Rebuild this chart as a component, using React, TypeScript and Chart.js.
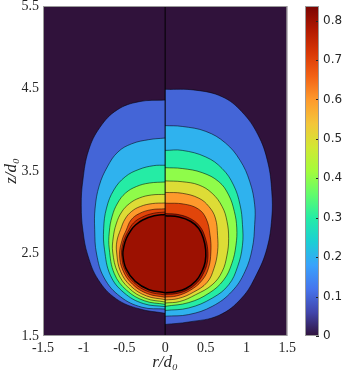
import React, { useEffect, useRef } from "react";
import { Chart, registerables } from "chart.js";

Chart.register(...registerables);

type P = [number, number];

// ---- axes / ticks ----
const xTicks = [-1.5, -1, -0.5, 0, 0.5, 1, 1.5];
const yTicks = [1.5, 2.5, 3.5, 4.5, 5.5];
const cbTicks = [0, 0.1, 0.2, 0.3, 0.4, 0.5, 0.6, 0.7, 0.8];
const cbMax = 0.837;

// ---- left half contours (r <= 0), outer to inner ----
const left01: P[] = [[0,4.36],[-0.32,4.34],[-0.59,4.24],[-0.80,4.03],[-0.94,3.75],[-1.01,3.39],[-1.03,3.08],[-1.01,2.78],[-0.95,2.48],[-0.82,2.18],[-0.60,1.95],[-0.32,1.83],[0,1.775]];
const left02: P[] = [[0,3.90],[-0.20,3.88],[-0.41,3.83],[-0.58,3.73],[-0.71,3.55],[-0.81,3.32],[-0.86,3.05],[-0.865,2.79],[-0.842,2.494],[-0.748,2.203],[-0.551,1.978],[-0.285,1.849],[0,1.827]];
const left03: P[] = [[0,3.57],[-0.14,3.565],[-0.32,3.52],[-0.49,3.43],[-0.63,3.27],[-0.72,3.05],[-0.755,2.80],[-0.745,2.55],[-0.672,2.235],[-0.505,2.024],[-0.268,1.893],[0,1.856]];
const left04: P[] = [[0,3.367],[-0.194,3.354],[-0.352,3.312],[-0.486,3.233],[-0.583,3.112],[-0.650,2.954],[-0.686,2.761],[-0.686,2.554],[-0.624,2.255],[-0.474,2.055],[-0.254,1.927],[0,1.884]];
const left05: P[] = [[0,3.217],[-0.170,3.209],[-0.316,3.173],[-0.437,3.106],[-0.534,3.003],[-0.601,2.858],[-0.638,2.688],[-0.644,2.518],[-0.583,2.271],[-0.447,2.082],[-0.242,1.957],[0,1.912]];
const left06: P[] = [[0,3.112],[-0.158,3.105],[-0.304,3.070],[-0.413,3.009],[-0.492,2.918],[-0.547,2.791],[-0.592,2.651],[-0.595,2.506],[-0.549,2.285],[-0.423,2.106],[-0.230,1.986],[0,1.941]];
const left07: P[] = [[0,3.042],[-0.170,3.031],[-0.316,2.985],[-0.419,2.906],[-0.477,2.785],[-0.528,2.664],[-0.559,2.49],[-0.520,2.298],[-0.401,2.128],[-0.218,2.013],[0,1.969]];
const left08: P[] = [[0,3.003],[-0.146,2.987],[-0.292,2.936],[-0.389,2.870],[-0.446,2.785],[-0.498,2.682],[-0.528,2.579],[-0.534,2.482],[-0.497,2.307],[-0.383,2.146],[-0.208,2.038],[0,1.997]];
const leftCore: P[] = [[0,2.973],[-0.134,2.957],[-0.276,2.906],[-0.364,2.845],[-0.417,2.785],[-0.474,2.688],[-0.506,2.591],[-0.519,2.482],[-0.479,2.314],[-0.367,2.162],[-0.198,2.061],[0,2.025]];

// ---- right half contours (r >= 0), outer to inner ----
const right01: P[] = [[0,4.49],[0.37,4.48],[0.70,4.40],[0.94,4.22],[1.14,3.94],[1.26,3.61],[1.31,3.25],[1.31,2.93],[1.25,2.56],[1.12,2.24],[0.94,1.96],[0.66,1.75],[0.29,1.67],[0,1.64]];
const right02: P[] = [[0,4.05],[0.21,4.04],[0.50,3.98],[0.74,3.84],[0.92,3.63],[1.04,3.37],[1.10,3.09],[1.10,2.85],[1.07,2.56],[0.98,2.28],[0.82,2.04],[0.58,1.86],[0.29,1.76],[0,1.74]];
const right03: P[] = [[0,3.75],[0.21,3.75],[0.50,3.67],[0.70,3.53],[0.84,3.33],[0.92,3.09],[0.95,2.85],[0.95,2.60],[0.89,2.34],[0.78,2.12],[0.58,1.96],[0.29,1.84],[0,1.81]];
const right04: P[] = [[0,3.54],[0.21,3.53],[0.455,3.48],[0.66,3.37],[0.78,3.21],[0.85,3.01],[0.88,2.81],[0.87,2.60],[0.82,2.38],[0.72,2.18],[0.54,2.02],[0.29,1.905],[0,1.86]];
const right05: P[] = [[0,3.38],[0.21,3.37],[0.415,3.33],[0.577,3.23],[0.70,3.07],[0.76,2.89],[0.78,2.68],[0.76,2.48],[0.70,2.28],[0.577,2.12],[0.374,2.00],[0.18,1.918],[0,1.90]];
const right06: P[] = [[0,3.24],[0.21,3.23],[0.415,3.17],[0.537,3.07],[0.617,2.93],[0.644,2.72],[0.644,2.52],[0.60,2.32],[0.516,2.15],[0.346,2.03],[0.164,1.955],[0,1.936]];
const right07: P[] = [[0,3.11],[0.225,3.10],[0.407,3.04],[0.505,2.92],[0.552,2.72],[0.562,2.52],[0.532,2.32],[0.45,2.17],[0.31,2.055],[0.14,1.985],[0,1.972]];
const right08: P[] = [[0,2.985],[0.175,2.97],[0.33,2.912],[0.433,2.82],[0.49,2.70],[0.524,2.542],[0.518,2.39],[0.472,2.262],[0.395,2.148],[0.268,2.055],[0.126,2.012],[0,2.003]];
const rightCore: P[] = [[0,2.957],[0.170,2.942],[0.316,2.888],[0.413,2.803],[0.468,2.688],[0.498,2.542],[0.492,2.397],[0.449,2.276],[0.377,2.167],[0.255,2.076],[0.121,2.036],[0,2.025]];

// value of the band inside each contour
const leftValues = [0.1, 0.2, 0.3, 0.4, 0.5, 0.6, 0.7, 0.75, 0.8];
const rightValues = [0.1, 0.2, 0.3, 0.4, 0.5, 0.6, 0.7, 0.8, 0.8];

// turbo colormap stops
const turbo = ["#30123b","#4145ab","#4675ed","#39a2fc","#1bcfd4","#24eca6","#61fc6c","#a4fc3b","#d1e834","#f3c63a","#fe9b2d","#f36315","#d93806","#b11901","#7a0402"];

function hexRgb(h: string): number[] {
  return [parseInt(h.slice(1, 3), 16), parseInt(h.slice(3, 5), 16), parseInt(h.slice(5, 7), 16)];
}
function turboAt(t: number): string {
  const n = turbo.length - 1;
  const x = Math.min(Math.max(t, 0), 1) * n;
  const i = Math.min(Math.floor(x), n - 1);
  const f = x - i;
  const a = hexRgb(turbo[i]);
  const b = hexRgb(turbo[i + 1]);
  const c = a.map((v, k) => Math.round(v + (b[k] - v) * f));
  return `rgb(${c[0]},${c[1]},${c[2]})`;
}

const serif = "'Liberation Serif', 'DejaVu Serif', serif";
const sans = "'DejaVu Sans', 'Liberation Sans', sans-serif";
const textColor = "#262626";

function contourSets(series: P[][], values: number[]) {
  return series.map((pts, i) => {
    const core = i === series.length - 1;
    return {
      data: pts.map(([x, y]) => ({ x, y })),
      fill: "shape",
      backgroundColor: turboAt(values[i] / cbMax),
      borderColor: core ? "#000" : "rgba(0,0,0,0.75)",
      borderWidth: core ? 1.5 : 0.7,
      pointRadius: 0,
      tension: 0.4,
      order: 100 - i,
    };
  });
}

export default function App() {
  const mainRef = useRef<HTMLCanvasElement>(null);
  const cbRef = useRef<HTMLCanvasElement>(null);

  useEffect(() => {
    const leftSeries = [left01, left02, left03, left04, left05, left06, left07, left08, leftCore];
    const rightSeries = [right01, right02, right03, right04, right05, right06, right07, right08, rightCore];

    const datasets: any[] = [
      ...contourSets(leftSeries, leftValues),
      ...contourSets(rightSeries, rightValues),
      {
        data: [{ x: 0, y: yTicks[0] }, { x: 0, y: yTicks[yTicks.length - 1] }],
        borderColor: "#000",
        borderWidth: 1,
        pointRadius: 0,
        fill: false,
        tension: 0,
        order: 0,
      },
    ];

    const framePlugin = {
      id: "frame",
      beforeDatasetsDraw(chart: any) {
        const { ctx, chartArea: a } = chart;
        ctx.save();
        ctx.fillStyle = turbo[0];
        ctx.fillRect(a.left, a.top, a.right - a.left, a.bottom - a.top);
        ctx.restore();
      },
      afterDraw(chart: any) {
        const { ctx, chartArea: a } = chart;
        ctx.save();
        ctx.strokeStyle = "#9a9a9a";
        ctx.lineWidth = 1;
        ctx.strokeRect(a.left + 0.5, a.top + 0.5, a.right - a.left - 1, a.bottom - a.top - 1);
        ctx.restore();
      },
    };

    const main = new Chart(mainRef.current as HTMLCanvasElement, {
      type: "line",
      data: { datasets },
      options: {
        animation: false,
        responsive: false,
        devicePixelRatio: 1,
        layout: { padding: { top: 16, right: 10, left: 0, bottom: 0 } },
        plugins: { legend: { display: false }, tooltip: { enabled: false } },
        scales: {
          x: {
            type: "linear",
            min: xTicks[0],
            max: xTicks[xTicks.length - 1],
            afterBuildTicks: (s: any) => { s.ticks = xTicks.map((v) => ({ value: v })); },
            afterFit: (s: any) => { s.height = 40; },
            grid: { display: false, drawTicks: false },
            border: { display: false },
            ticks: {
              padding: 4,
              color: textColor,
              autoSkip: false,
              maxRotation: 0,
              font: { family: serif, size: 14 },
              callback: (v: any) => String(v),
            },
            title: {
              display: true,
              text: "r/d₀",
              color: textColor,
              font: { family: serif, size: 17, style: "italic" },
              padding: { top: 0, bottom: 3 },
            },
          },
          y: {
            type: "linear",
            min: yTicks[0],
            max: yTicks[yTicks.length - 1],
            afterBuildTicks: (s: any) => { s.ticks = yTicks.map((v) => ({ value: v })); },
            afterFit: (s: any) => { s.width = 43; },
            grid: { display: false, drawTicks: false },
            border: { display: false },
            ticks: {
              padding: 4,
              color: textColor,
              autoSkip: false,
              font: { family: serif, size: 14 },
              callback: (v: any) => String(v),
            },
            title: {
              display: true,
              text: "z/d₀",
              color: textColor,
              font: { family: serif, size: 17, style: "italic" },
              padding: { top: 1, bottom: 0 },
            },
          },
        },
      } as any,
      plugins: [framePlugin],
    });

    const cbPlugin = {
      id: "cbframe",
      afterDraw(chart: any) {
        const { ctx, chartArea: a } = chart;
        const ys = chart.scales.y;
        ctx.save();
        ctx.strokeStyle = "#262626";
        ctx.lineWidth = 1;
        cbTicks.forEach((v) => {
          const y = Math.round(ys.getPixelForValue(v)) + 0.5;
          ctx.beginPath();
          ctx.moveTo(a.right - 3, y);
          ctx.lineTo(a.right, y);
          ctx.stroke();
        });
        ctx.strokeStyle = "#9a9a9a";
        ctx.strokeRect(a.left + 0.5, a.top + 0.5, a.right - a.left - 1, a.bottom - a.top - 1);
        ctx.restore();
      },
    };

    const cb = new Chart(cbRef.current as HTMLCanvasElement, {
      type: "bar",
      data: {
        labels: ["colorbar"],
        datasets: [
          {
            data: [cbMax],
            borderWidth: 0,
            barPercentage: 1,
            categoryPercentage: 1,
            backgroundColor: (c: any) => {
              const chart = c.chart;
              const ys = chart.scales && chart.scales.y;
              if (!ys) return turbo[0];
              const y0 = ys.getPixelForValue(0);
              const y1 = ys.getPixelForValue(cbMax);
              if (!Number.isFinite(y0) || !Number.isFinite(y1) || y0 === y1) return turbo[0];
              const g = chart.ctx.createLinearGradient(0, y0, 0, y1);
              turbo.forEach((col, i) => g.addColorStop(i / (turbo.length - 1), col));
              return g;
            },
          },
        ],
      },
      options: {
        animation: false,
        responsive: false,
        devicePixelRatio: 1,
        layout: { padding: { top: 16, left: 5, right: 0, bottom: 40 } },
        plugins: { legend: { display: false }, tooltip: { enabled: false } },
        scales: {
          x: { display: false },
          y: {
            min: 0,
            max: cbMax,
            position: "right",
            afterBuildTicks: (s: any) => { s.ticks = cbTicks.map((v) => ({ value: v })); },
            afterFit: (s: any) => { s.width = 24; },
            grid: { display: false, drawTicks: false },
            border: { display: false },
            ticks: {
              padding: 4,
              color: textColor,
              font: { family: sans, size: 12 },
              callback: (v: any) => String(v),
            },
          },
        },
      } as any,
      plugins: [cbPlugin],
    });

    return () => {
      main.destroy();
      cb.destroy();
    };
  }, []);

  return (
    <div style={{ position: "fixed", left: 0, top: 0, width: 343, height: 376, background: "#fff", overflow: "hidden" }}>
      <canvas ref={mainRef} width={300} height={386} style={{ position: "absolute", left: 0, top: -10, width: 300, height: 386 }} />
      <canvas ref={cbRef} width={43} height={386} style={{ position: "absolute", left: 300, top: -10, width: 43, height: 386 }} />
    </div>
  );
}
